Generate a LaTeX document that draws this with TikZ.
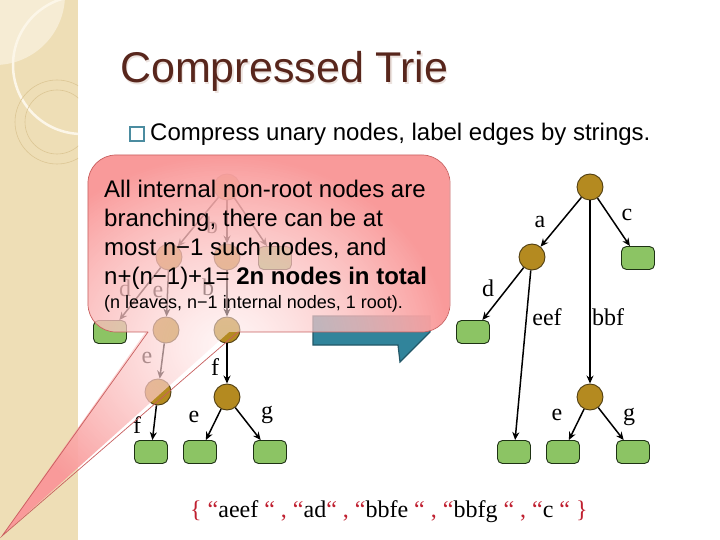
\documentclass[tikz,border=0pt]{standalone}
\usepackage{fontspec}
\setmainfont{Liberation Serif}
\newfontfamily\arialf{Liberation Sans}
\usetikzlibrary{arrows.meta,fadings}
\definecolor{beige}{RGB}{238,222,182}
\definecolor{beigelight}{RGB}{246,236,212}
\definecolor{beigewhite}{RGB}{252,246,232}
\definecolor{tanline}{RGB}{220,198,148}
\definecolor{titlecol}{RGB}{88,38,28}
\definecolor{titleshadow}{RGB}{236,226,222}
\definecolor{bulletteal}{RGB}{75,140,160}
\definecolor{gold}{RGB}{180,138,32}
\definecolor{nodeline}{RGB}{80,62,18}
\definecolor{leafgreen}{RGB}{140,196,100}
\definecolor{leafline}{RGB}{30,50,20}
\definecolor{tealc}{RGB}{49,132,155}
\definecolor{tealdark}{RGB}{35,88,104}
\definecolor{pinkin}{RGB}{255,236,236}
\definecolor{pinkout}{RGB}{249,154,154}
\definecolor{pinkline}{RGB}{200,95,95}
\definecolor{setred}{RGB}{192,32,48}
\tikzfading[name=pinkfade,inner color=transparent!50,outer color=transparent!0]
\begin{document}
\begin{tikzpicture}[x=1bp,y=-1bp,
  inode/.style={circle,draw=nodeline,fill=gold,line width=0.9bp,minimum size=26bp,inner sep=0pt},
  leaf/.style={rectangle,rounded corners=5bp,draw=leafline,fill=leafgreen,line width=0.9bp,minimum width=33bp,minimum height=23bp,inner sep=0pt},
  arr/.style={-{Stealth[length=8bp,width=7bp]},line width=1.5bp,black},
  lbl/.style={font=\fontsize{24bp}{28bp}\selectfont,inner sep=0pt},
  calltext/.style={anchor=base west,inner sep=0pt,font=\arialf\fontsize{24bp}{29bp}\selectfont},
]
\useasboundingbox (0,0) rectangle (720,540);
\fill[white] (0,0) rectangle (720,540);
% decorative strip
\begin{scope}
\clip (0,0) rectangle (78,540);
\fill[beige] (0,0) rectangle (78,540);
\fill[beigelight] (-5,-5) circle (70);
\draw[beigewhite,line width=2.5bp] (82,65) circle (69);
\draw[tanline,line width=0.6bp] (57,122) circle (42);
\draw[tanline,line width=0.6bp] (57,122) circle (32);
\end{scope}
% title
\node[anchor=base west,inner sep=0pt,text=titleshadow,font=\arialf\fontsize{43bp}{50bp}\selectfont] (tshadow) at (121.5,84.5) {Compressed Trie};
\node[anchor=base west,inner sep=0pt,text=titlecol,font=\arialf\fontsize{43bp}{50bp}\selectfont] (title) at (120,83) {Compressed Trie};
% bullet
\node[draw=bulletteal,line width=1.4bp,minimum size=14bp,inner sep=0pt] (bsq) at (137,134) {};
\node[calltext] (bul) at (150,141) {Compress unary nodes, label edges by strings.};
% left (standard) trie
\node[inode] (L0) at (227,187) {};
\node[inode] (La) at (169,257) {};
\node[inode] (Lb) at (227,257) {};
\node[leaf] (Lc) at (275,258) {};
\node[leaf] (Ld) at (110,332) {};
\node[inode] (Le) at (166,330) {};
\node[inode] (Lb2) at (227,330) {};
\node[inode] (Le2) at (158,392) {};
\node[inode] (Lf) at (227,397) {};
\node[leaf] (Lf1) at (151,452) {};
\node[leaf] (Le1) at (200,452) {};
\node[leaf] (Lg1) at (270,452) {};
\draw[arr] (L0) -- (La);
\draw[arr] (L0) -- (Lb);
\draw[arr] (L0) -- (Lc);
\draw[arr] (La) -- (Ld);
\draw[arr] (La) -- (Le);
\draw[arr] (Lb) -- (Lb2);
\draw[arr] (Le) -- (Le2);
\draw[arr] (Lb2) -- (Lf);
\draw[arr] (Le2) -- (Lf1);
\draw[arr] (Lf) -- (Le1);
\draw[arr] (Lf) -- (Lg1);
\node[lbl] (lb1) at (212,225) {b};
\node[lbl] (ld1) at (125,288) {d};
\node[lbl] (le1) at (158,292) {e};
\node[lbl] (lb2) at (208,287) {b};
\node[lbl] (le2) at (147,358) {e};
\node[lbl] (lf2) at (215,367) {f};
\node[lbl] (lf3) at (137,425) {f};
\node[lbl] (le3) at (194,417) {e};
\node[lbl] (lg3) at (267,415) {g};
% right (compressed) trie
\node[inode] (R0) at (590,187) {};
\node[inode] (Ra) at (532,257) {};
\node[leaf] (Rc) at (638,258) {};
\node[leaf] (Rd) at (473,332) {};
\node[leaf] (Reef) at (514,452) {};
\node[inode] (Rn) at (590,397) {};
\node[leaf] (Re) at (563,452) {};
\node[leaf] (Rg) at (633,452) {};
\draw[arr] (R0) -- (Ra);
\draw[arr] (R0) -- (Rc);
\draw[arr] (Ra) -- (Rd);
\draw[arr] (Ra) -- (Reef);
\draw[arr] (R0) -- (Rn);
\draw[arr] (Rn) -- (Re);
\draw[arr] (Rn) -- (Rg);
\node[lbl] (ra) at (540,222) {a};
\node[lbl] (rc) at (627,215) {c};
\node[lbl] (rd) at (488,288) {d};
\node[lbl] (reef) at (547,317) {eef};
\node[lbl] (rbbf) at (608,317) {bbf};
\node[lbl] (re) at (557,415) {e};
\node[lbl] (rg) at (629,417) {g};
% teal callout behind
\filldraw[fill=tealc,draw=tealdark,line width=1.2bp] (313,316) -- (430,316) -- (430,332) -- (400,362) -- (398,345) -- (313,345) -- cycle;
% pink callout
\shade[inner color=pinkin,outer color=pinkout,path fading=pinkfade]
  (2,536) -- (150,326) -- (236,326) -- cycle
  [rounded corners=28bp] (88,155) -- (450,155) -- (450,332) -- (88,332) -- cycle;
\draw[pinkline,line width=0.7bp,rounded corners=28bp] (148,332) -- (88,332) -- (88,155) -- (450,155) -- (450,332) -- (238,332);
\draw[pinkline,line width=0.7bp] (148,332) -- (2,536) -- (238,332);
\node[calltext] (t1) at (104,198) {All internal non-root nodes are};
\node[calltext] (t2) at (104,227) {branching, there can be at};
\node[calltext] (t3) at (104,256) {most n−1 such nodes, and};
\node[calltext] (t4) at (104,285) {n+(n−1)+1= \textbf{2n nodes in total}};
\node[anchor=base west,inner sep=0pt,font=\arialf\fontsize{18bp}{22bp}\selectfont] (t5) at (104,308) {(n leaves, n−1 internal nodes, 1 root).};
% string set
\node[anchor=base west,inner sep=0pt,font=\fontsize{24bp}{28bp}\selectfont] (set) at (190,517) {\textcolor{setred}{\{} \textcolor{setred}{“}aeef \textcolor{setred}{“} \textcolor{setred}{,} \textcolor{setred}{“}ad\textcolor{setred}{“} \textcolor{setred}{,} \textcolor{setred}{“}bbfe \textcolor{setred}{“} \textcolor{setred}{,} \textcolor{setred}{“}bbfg \textcolor{setred}{“} \textcolor{setred}{,} \textcolor{setred}{“}c \textcolor{setred}{“} \textcolor{setred}{\}}};
\end{tikzpicture}
\end{document}
